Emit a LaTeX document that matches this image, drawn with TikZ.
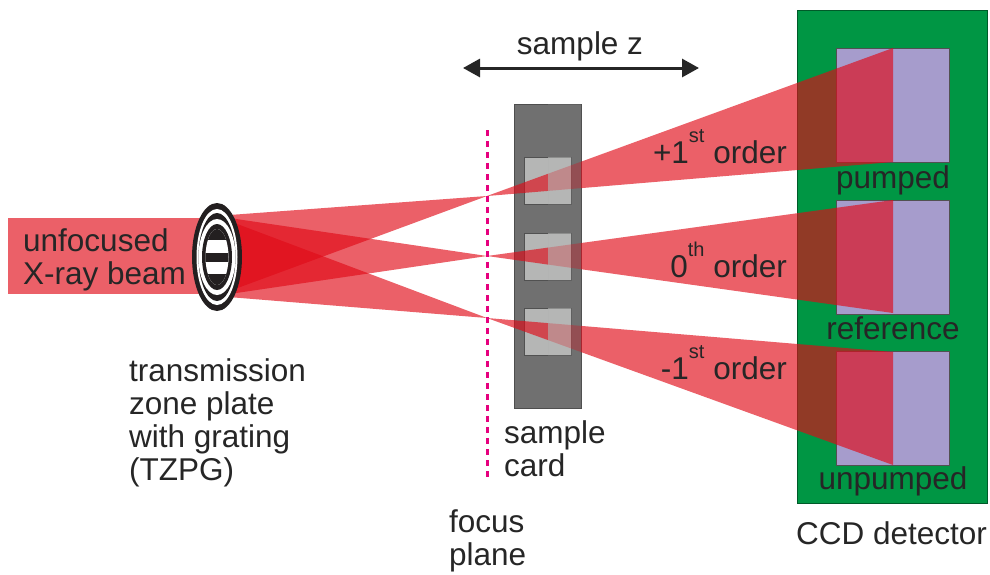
\documentclass[tikz,border=0pt]{standalone}
\usepackage{fontspec}
\setmainfont{Liberation Sans}
\usetikzlibrary{arrows.meta,positioning}

\definecolor{ink}{RGB}{38,38,38}
\definecolor{beamred}{RGB}{224,10,23}
\definecolor{ccdgreen}{RGB}{0,150,68}
\definecolor{chip}{RGB}{166,156,204}
\definecolor{cardgray}{RGB}{112,112,112}
\definecolor{window}{RGB}{181,182,181}
\definecolor{focuspink}{RGB}{230,0,126}
\definecolor{zpblack}{RGB}{35,31,32}

\newcommand{\sups}[1]{\raisebox{0.66em}{\fontsize{20}{20}\selectfont #1}}

\begin{document}
\begin{tikzpicture}[x=1pt,y=-1pt,
    font=\fontsize{31.5}{33}\selectfont, text=ink,
    beam/.style={fill=beamred,fill opacity=0.65},
    txt/.style={inner sep=0pt,align=left}]

    \useasboundingbox (0,0) rectangle (990,574);

    % the CCD with its three regions
    \draw[fill=ccdgreen,draw=ccdgreen!60!black,line width=1pt] (797,10) rectangle (987,503);
    \foreach \y in {48,200,351}
        \draw[fill=chip,draw=ink!80,line width=1pt] (836,\y) rectangle (949,\y+114);

    % the sample card and its windows
    \draw[fill=cardgray,draw=cardgray!70!black,line width=1pt] (514,104) rectangle (581,408);
    \foreach \y in {157,233,308}
        \draw[fill=window,draw=ink!80,line width=1pt] (524,\y) rectangle (571,\y+47);

    % these are the points of the beams
    \coordinate (zpA) at (216,216);
    \coordinate (zpB) at (216,296);
    \coordinate (f1) at (487,196);
    \coordinate (f2) at (487,256);
    \coordinate (f3) at (487,318);

    % incoming beam and the three orders
    \fill[beam] (8,218) rectangle (216,294);
    \fill[beam] (zpA) -- (zpB) -- (f1) -- (893,48) -- (893,162) -- (f1) -- cycle;
    \fill[beam] (zpA) -- (zpB) -- (f2) -- (893,200) -- (893,313) -- (f2) -- cycle;
    \fill[beam] (zpA) -- (zpB) -- (f3) -- (893,352) -- (893,465) -- (f3) -- cycle;

    % the back half of the card dims the beams
    \fill[cardgray,fill opacity=0.5,even odd rule] (548,104) rectangle (581,408)
        (548,157) rectangle (571,204) (548,233) rectangle (571,280) (548,308) rectangle (571,355);
    \foreach \y in {157,233,308}
        \fill[window,fill opacity=0.6] (548,\y) rectangle (571,\y+47);

    % zone plate
    \begin{scope}[shift={(217,257)}]
        \fill[zpblack] (0,0) ellipse [x radius=25,y radius=54];
        \fill[white] (0,0) ellipse [x radius=20.5,y radius=48];
        \fill[zpblack] (0,0) ellipse [x radius=18.5,y radius=44];
        \fill[white] (0,0) ellipse [x radius=18.5,y radius=38];
        \fill[zpblack] (0,0) ellipse [x radius=15,y radius=33];
        \fill[white] (0,0) ellipse [x radius=11.5,y radius=28];
        \begin{scope}
            \clip (0,0) ellipse [x radius=11.5,y radius=28];
            \fill[zpblack] (-12,-29) rectangle (12,-17);
            \fill[zpblack] (-12,-4.5) rectangle (12,4.5);
            \fill[zpblack] (-12,17) rectangle (12,29);
        \end{scope}
    \end{scope}

    % focus plane
    \coordinate (fptop) at (487,130);
    \coordinate (fpbot) at (487,478);
    \draw[focuspink,line width=3pt,dash pattern=on 6pt off 5pt] (fptop) -- (fpbot);

    % scan direction of the card
    \coordinate (zleft) at (463,68);
    \coordinate (zright) at (699,68);
    \draw[ink,line width=3pt,{Triangle[length=17pt,width=18pt]}-{Triangle[length=17pt,width=18pt]}] (zleft) -- (zright);
    \node[txt] (samplez) at (580,46) {sample z};

    % labels
    \node[txt,anchor=west] (beamtext) at (23,260) {unfocused\\X-ray beam};
    \node[txt,anchor=west] (tzpg) at (129,423) {transmission\\zone plate\\with grating\\(TZPG)};
    \node[txt,anchor=west] (cardtext) at (504,449) {sample\\card};
    \node[txt,anchor=west] (focustext) at (449,541) {focus\\plane};
    \node[txt,anchor=west] (ccd) at (796,533) {CCD detector};

    \node[txt,anchor=east] (plusfirst) at (787,147) {+1\sups{st} order};
    \node[txt,anchor=east] (zeroth) at (787,260) {0\sups{th} order};
    \node[txt,anchor=east] (minusfirst) at (787,363) {-1\sups{st} order};

    \node[txt] (pumped) at (893,180) {pumped};
    \node[txt] (reference) at (893,328) {reference};
    \node[txt] (unpumped) at (893,481) {unpumped};

\end{tikzpicture}
\end{document}
